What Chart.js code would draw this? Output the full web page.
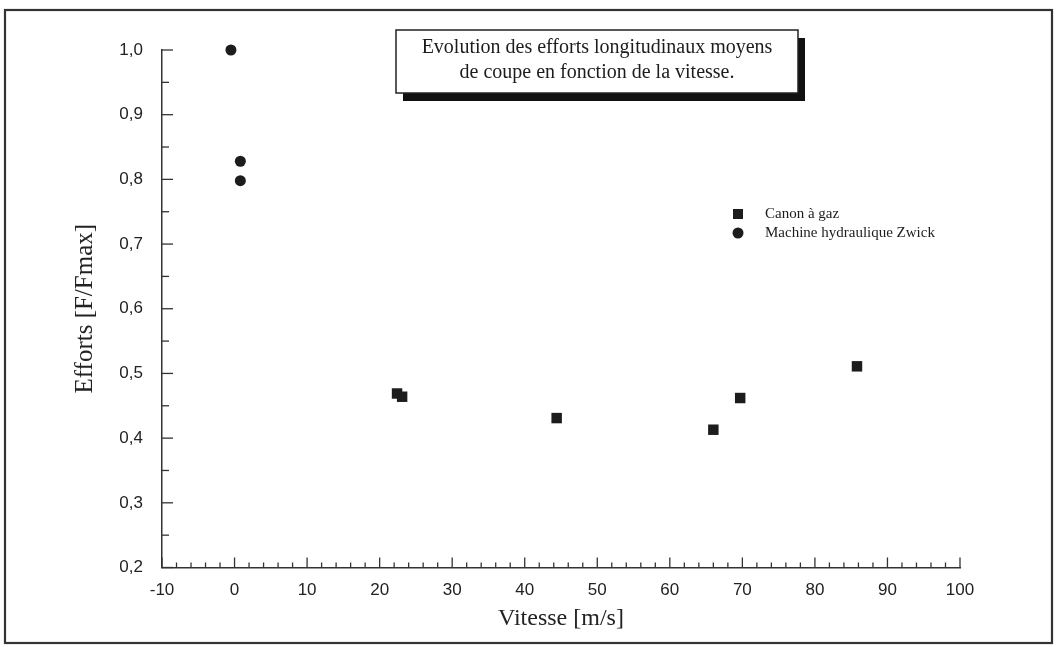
<!DOCTYPE html>
<html>
<head>
<meta charset="utf-8">
<script src="https://cdn.jsdelivr.net/npm/chart.js@4.4.0/dist/chart.umd.min.js"></script>
<style>
  body { margin: 0; background: #fff; }
  #wrap { width: 1057px; height: 647px; }
</style>
</head>
<body>
<div id="wrap"><canvas id="graphique" width="1057" height="647"></canvas></div>
<script>
// Données
const vitesseCanon = [22.4, 23.1, 44.4, 66.0, 69.7, 85.8];
const effortCanon = [0.469, 0.464, 0.431, 0.413, 0.462, 0.511];
const vitesseZwick = [-0.5, 0.8, 0.8];
const effortZwick = [1.0, 0.828, 0.798];

const nomsSeries = ["Canon à gaz", "Machine hydraulique Zwick"];
const titreLignes = ["Evolution des efforts longitudinaux moyens", "de coupe en fonction de la vitesse."];

const serif = "'Liberation Serif', 'Times New Roman', serif";
const sans = "'Liberation Sans', Arial, sans-serif";
const encre = "#1c1c1c";

function points(xs, ys) {
  return xs.map((x, i) => ({ x: x, y: ys[i] }));
}

// petits traits vers l'intérieur, légende, cadre du titre
const decor = {
  id: "decor",
  afterDraw(chart) {
    const ctx = chart.ctx;
    const sx = chart.scales.x;
    const sy = chart.scales.y;
    const ca = chart.chartArea;
    ctx.save();
    ctx.strokeStyle = "#333";
    ctx.lineWidth = 1.3;

    // traits axe Y (majeurs 0.1, mineurs 0.05)
    for (let i = 0; i <= 16; i++) {
      const v = 0.2 + i * 0.05;
      const py = sy.getPixelForValue(v);
      const long = i % 2 === 0 ? 11 : 7;
      ctx.beginPath();
      ctx.moveTo(ca.left, py);
      ctx.lineTo(ca.left + long, py);
      ctx.stroke();
    }
    // traits axe X (majeurs 10, mineurs 2)
    for (let v = -10; v <= 100; v += 2) {
      const px = sx.getPixelForValue(v);
      const long = v % 10 === 0 ? 10 : 5;
      ctx.beginPath();
      ctx.moveTo(px, ca.bottom);
      ctx.lineTo(px, ca.bottom - long);
      ctx.stroke();
    }

    // légende
    ctx.fillStyle = encre;
    ctx.font = "15px " + serif;
    ctx.textBaseline = "middle";
    const lx = 738, ly = [214, 233];
    ctx.fillRect(lx - 5, ly[0] - 5, 10, 10);
    ctx.beginPath();
    ctx.arc(lx, ly[1], 5.5, 0, Math.PI * 2);
    ctx.fill();
    ctx.fillText(nomsSeries[0], 765, ly[0]);
    ctx.fillText(nomsSeries[1], 765, ly[1]);

    // boîte du titre avec ombre
    const bx = 396, by = 30, bw = 402, bh = 63;
    ctx.fillStyle = "#111";
    ctx.fillRect(bx + 7, by + 8, bw, bh);
    ctx.fillStyle = "#fff";
    ctx.fillRect(bx, by, bw, bh);
    ctx.lineWidth = 1.5;
    ctx.strokeStyle = "#222";
    ctx.strokeRect(bx, by, bw, bh);
    ctx.fillStyle = encre;
    ctx.font = "20px " + serif;
    ctx.textAlign = "center";
    ctx.fillText(titreLignes[0], bx + bw / 2, 48);
    ctx.fillText(titreLignes[1], bx + bw / 2, 73);

    // cadre extérieur
    ctx.lineWidth = 2.2;
    ctx.strokeStyle = "#333";
    ctx.strokeRect(5, 10, 1047, 633);
    ctx.restore();
  }
};

const ctx = document.getElementById("graphique").getContext("2d");
new Chart(ctx, {
  type: "scatter",
  data: {
    datasets: [
      {
        label: nomsSeries[0],
        data: points(vitesseCanon, effortCanon),
        pointStyle: "rect",
        pointRadius: 7.4,
        pointHoverRadius: 7.4,
        backgroundColor: encre,
        borderColor: encre,
        borderWidth: 0,
        clip: false
      },
      {
        label: nomsSeries[1],
        data: points(vitesseZwick, effortZwick),
        pointStyle: "circle",
        pointRadius: 5.5,
        pointHoverRadius: 5.5,
        backgroundColor: encre,
        borderColor: encre,
        borderWidth: 0,
        clip: false
      }
    ]
  },
  options: {
    responsive: false,
    animation: false,
    layout: { padding: { left: 0, right: 97, top: 50, bottom: 0 } },
    plugins: {
      legend: { display: false },
      tooltip: { enabled: false }
    },
    scales: {
      x: {
        type: "linear",
        min: -10,
        max: 100,
        grid: { display: false, drawTicks: false },
        border: { display: true, color: "#333", width: 1.5 },
        ticks: {
          stepSize: 10,
          padding: 13,
          color: "#222",
          font: { family: sans, size: 17 },
          callback: v => String(v)
        },
        title: {
          display: true,
          text: "Vitesse [m/s]",
          color: "#222",
          font: { family: serif, size: 24 },
          padding: { top: 0, bottom: 14 }
        },
        afterFit: s => { s.height = 79.5; }
      },
      y: {
        type: "linear",
        min: 0.2,
        max: 1.0,
        grid: { display: false, drawTicks: false },
        border: { display: true, color: "#333", width: 1.5 },
        ticks: {
          stepSize: 0.1,
          padding: 19,
          color: "#222",
          font: { family: sans, size: 17 },
          callback: v => v.toFixed(1).replace(".", ",")
        },
        title: {
          display: true,
          text: "Efforts [F/Fmax]",
          color: "#222",
          font: { family: serif, size: 25 },
          padding: { top: 70, bottom: 0 }
        },
        afterFit: s => { s.width = 162; }
      }
    }
  },
  plugins: [decor]
});
</script>
</body>
</html>
